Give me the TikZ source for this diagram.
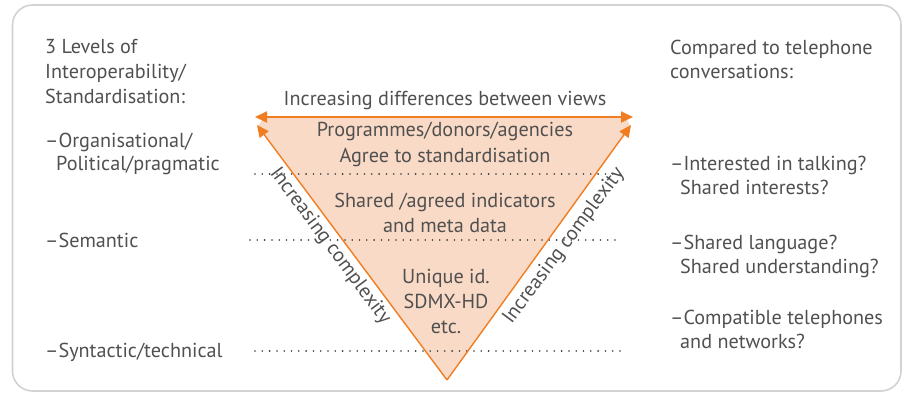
\documentclass[tikz,border=0pt]{standalone}
\usepackage{fontspec}
\setmainfont{PT Sans}
\usetikzlibrary{arrows.meta}
\definecolor{txt}{HTML}{505050}
\definecolor{org}{HTML}{F07D22}
\definecolor{pch}{HTML}{F9DAC6}
\definecolor{frm}{HTML}{D2D2D2}
\definecolor{dotc}{HTML}{383838}
\begin{document}
\begin{tikzpicture}[x=1pt,y=-1pt,
  lbl/.style={font=\fontsize{20.2}{24}\selectfont, text=txt, inner sep=0pt},
  lft/.style={lbl, anchor=base west},
  ctr/.style={lbl, anchor=base},
  dotline/.style={draw=dotc, line width=1.8pt, line cap=round, dash pattern=on 0pt off 7.3pt},
  tip/.style={-{Triangle[length=12pt,width=11pt]}},
  edge/.style={draw=org, line width=1.4pt},
  frame/.style={draw=frm, line width=1.6pt, rounded corners=20pt}
]
\useasboundingbox (0,0) rectangle (902,393);
\draw[frame] (12.5,5) rectangle (901,391);

\coordinate (apex) at (447,380);
\coordinate (tl) at (257,125);
\coordinate (tr) at (631,125);
\coordinate (al) at (255,117);
\coordinate (ar) at (633,117);

% fill
\fill[pch] (apex) -- (258,126) -- (264,117) -- (626,117) -- (630,126) -- cycle;

% dotted level lines
\coordinate (d1a) at (255,174); \coordinate (d1b) at (620,174);
\coordinate (d2a) at (250,240); \coordinate (d2b) at (620,240);
\coordinate (d3a) at (255,351); \coordinate (d3b) at (621,351);
\draw[dotline] (d1a) -- (d1b);
\draw[dotline] (d2a) -- (d2b);
\draw[dotline] (d3a) -- (d3b);

% arrows
\draw[edge, tip] (apex) -- (tl);
\draw[edge, tip] (apex) -- (tr);
\draw[edge, line width=1.8pt, {Triangle[length=12pt,width=11pt]}-{Triangle[length=12pt,width=11pt]}] (al) -- (ar);

% rotated labels
\node[lbl, rotate=-53.3, anchor=center] (cl) at (330,246) {Increasing complexity};
\node[lbl, rotate=53.3, anchor=center] (cr) at (564,246) {Increasing complexity};

% center texts
\node[ctr] (c0) at (445,106) {Increasing differences between views};
\node[ctr] (c1) at (445,137) {Programmes/donors/agencies};
\node[ctr] (c2) at (445,162) {Agree to standardisation};
\node[ctr] (c3) at (445,207) {Shared /agreed indicators};
\node[ctr] (c4) at (445,232) {and meta data};
\node[ctr] (c5) at (446,283) {Unique id.};
\node[ctr] (c6) at (446,308) {SDMX-HD};
\node[ctr] (c7) at (446,333) {etc.};

% left texts
\node[lft] (l1) at (45,54) {3 Levels of};
\node[lft] (l2) at (45,79) {Interoperability/};
\node[lft] (l3) at (45,104) {Standardisation:};
\node[lft] (l4) at (45,147) {–Organisational/};
\node[lft] (l5) at (56,171) {Political/pragmatic};
\node[lft] (l6) at (45,247) {–Semantic};
\node[lft] (l7) at (45,357) {–Syntactic/technical};

% right texts
\node[lft] (r1) at (670,55) {Compared to telephone};
\node[lft] (r2) at (670,79) {conversations:};
\node[lft] (r3) at (670,170) {–Interested in talking?};
\node[lft] (r4) at (680,194) {Shared interests?};
\node[lft] (r5) at (670,249) {–Shared language?};
\node[lft] (r6) at (680,273) {Shared understanding?};
\node[lft] (r7) at (670,324) {–Compatible telephones};
\node[lft] (r8) at (680,348) {and networks?};
\end{tikzpicture}
\end{document}
